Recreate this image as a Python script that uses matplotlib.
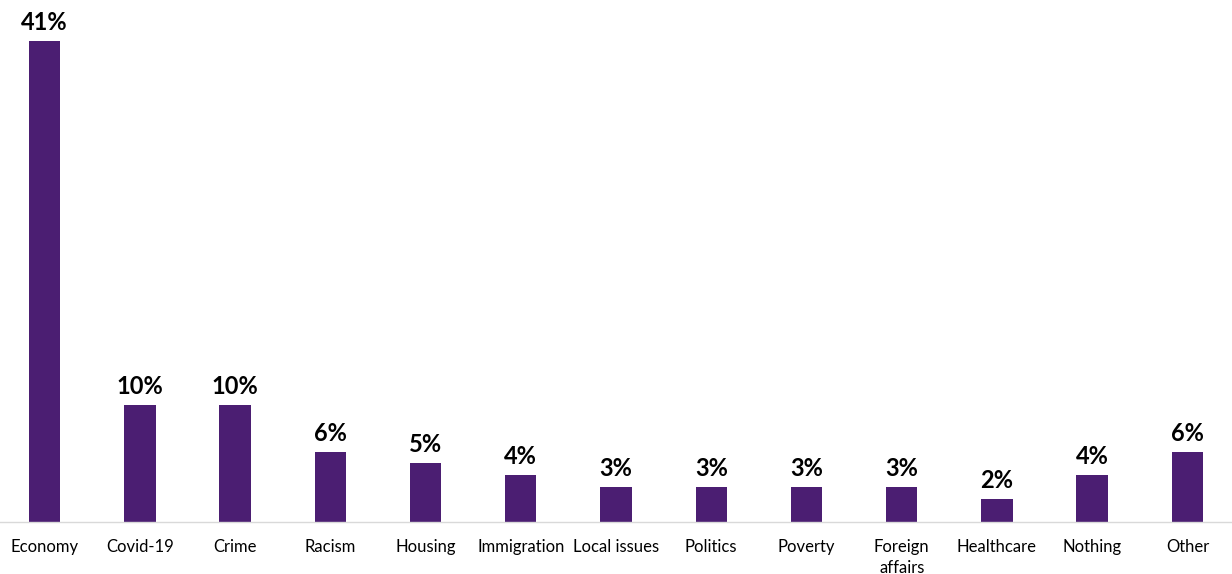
import matplotlib.pyplot as plt

categories = ["Economy", "Covid-19", "Crime", "Racism", "Housing", "Immigration",
              "Local issues", "Politics", "Poverty", "Foreign\naffairs",
              "Healthcare", "Nothing", "Other"]
values = [41, 10, 10, 6, 5, 4, 3, 3, 3, 3, 2, 4, 6]

plt.rcParams['font.family'] = ['Lato', 'DejaVu Sans']

fig = plt.figure(figsize=(12.32, 5.74), dpi=100)
ax = fig.add_axes([0, 0.0906, 1, 0.9094])

x = range(len(values))
bars = ax.bar(x, values, width=0.33, color="#4B1E72")

for xi, v in zip(x, values):
    ax.annotate(f"{v}%", (xi, v), xytext=(0, 5), textcoords="offset points",
                ha="center", va="bottom", fontsize=17, fontweight="bold")

ax.set_xlim(-0.468, 12.468)
ax.set_ylim(0, 44.5)
ax.set_xticks(list(x))
ax.set_xticklabels(categories, fontsize=12, va="top", linespacing=1.4)
ax.tick_params(axis="x", length=0, pad=12)
ax.set_yticks([])
for s in ["top", "left", "right"]:
    ax.spines[s].set_visible(False)
ax.spines["bottom"].set_color("#D9D9D9")
ax.spines["bottom"].set_linewidth(1)

fig.savefig("out.png", dpi=100)
